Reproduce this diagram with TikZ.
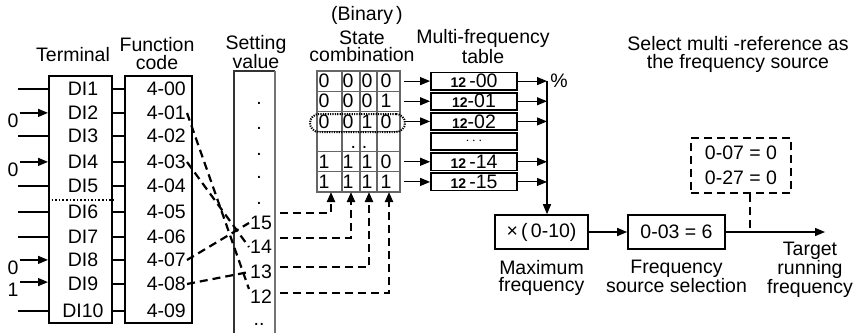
\documentclass[tikz,border=0pt]{standalone}
\usepackage{fontspec}
\setmainfont{Liberation Sans}
\usetikzlibrary{arrows.meta,positioning}

\newcommand{\grpno}[1]{{\fontsize{14}{14}\selectfont\bfseries #1}}

\begin{document}
\begin{tikzpicture}[
    x=1pt, y=-1pt,
    font=\fontsize{19.5}{17.5}\selectfont,
    inner sep=1pt,
    box/.style={draw, line width=1.6pt},
    arr/.style={-{Triangle[length=10pt,width=8pt]}, line width=1.4pt},
    dashline/.style={line width=2.2pt, dash pattern=on 8pt off 5pt},
    dasharr/.style={dashline, -{Triangle[length=10pt,width=8pt]}},
    strow/.style={draw=black!60, line width=1.1pt, minimum width=83pt, minimum height=20.17pt},
    mfrow/.style={draw, line width=1.8pt, minimum width=86pt, minimum height=17.3pt}
  ]
  \useasboundingbox (0,0) rectangle (857,333);

  % Column titles
  \node (ttl) at (73,55) {Terminal};
  \node[align=center] (ftl) at (157,53.5) {Function\\code};
  \node[align=center] (stl) at (256,52) {Setting\\value};
  \node (btl) at (367,15) {(Binary\,)};
  \node[align=center] (ctl) at (362,46.5) {State\\combination};
  \node[align=center] (mtl) at (483,46.5) {Multi-frequency\\table};
  \node[align=center] (sltl) at (738,54.5) {Select multi -reference as\\the frequency source};

  % Terminals and function codes
  \node[box, minimum width=63.4pt, minimum height=247.4pt] (termbox) at (80.5,199.5) {};
  \node[box, minimum width=67.4pt, minimum height=247.4pt] (fcbox) at (158.5,199.5) {};
  \draw[line width=1.6pt, dotted] (48,200) -- (113,200);
  \foreach \i/\y/\f in {1/89/00, 2/113/01, 3/136/02, 4/162/03, 5/186/04,
                        6/212/05, 7/237/06, 8/260/07, 9/284/08, 10/311/09} {
    \node (t\i) at (83,\y) {DI\i};
    \node[anchor=east] (f\i) at (187,\y) {4-\f};
    \coordinate (w\i) at (18,\y);
    \draw[line width=1.4pt] (termbox.east |- t\i) -- (fcbox.west |- t\i);
  }
  \foreach \i in {1,3,5,6,7,10}
    \draw[line width=1.4pt] (w\i) -- (termbox.west |- w\i);

  % Input states
  \node (in2) at (13,121) {0};
  \node (in4) at (13,170) {0};
  \node (in8) at (13,268) {0};
  \node (in9) at (13,290) {1};
  \foreach \n in {in2,in4,in8,in9}
    \draw[arr] (\n.north east) -- (termbox.west |- \n.north east);

  % Setting value column
  \draw[line width=1.3pt, black!80] (234,333) -- (234,71) -- (275,71);
  \draw[line width=1.3pt, black!55] (275,71) -- (275,333);
  \foreach \y in {103,128,154,177,203}
    \node at (259,\y) {.};
  \node (sv15) at (261,223) {15};
  \node (sv14) at (261,247) {14};
  \node (sv13) at (261,272) {13};
  \node (sv12) at (261,297) {12};
  \node (svdots) at (259,324) {..};

  % Crossed assignments
  \draw[dashline] (f2.east) -- (sv12.north west);
  \draw[dashline] (f4.east) -- (sv14.west);
  \draw[dashline] (f8.east) -- (sv15.west);
  \draw[dashline] (f9.east) -- (sv13.west);

  % State combination table
  \foreach \i in {1,...,6}
    \node[strow] (sr\i) at (358.5,{71+20.17*(\i-0.5)}) {};
  \foreach \x in {342,360,377}
    \draw[black!60, line width=1.1pt] (\x,71) -- (\x,192);
  \foreach \i/\a/\b/\c/\d in {1/0/0/0/0, 2/0/0/0/1, 3/0/0/1/0, 5/1/1/1/0, 6/1/1/1/1} {
    \node at (324,{71+20.17*(\i-0.5)}) {\a};
    \node at (348,{71+20.17*(\i-0.5)}) {\b};
    \node at (367,{71+20.17*(\i-0.5)}) {\c};
    \node at (386,{71+20.17*(\i-0.5)}) {\d};
  }
  \node (stdots) at (359,147) {.\hspace{6pt}.};
  \node[draw, line width=2pt, dash pattern=on 1.2pt off 1.2pt, rounded corners=9pt,
        minimum width=95pt, minimum height=18pt] (hl) at (357.5,123) {};

  % Bits from setting values
  \coordinate (s15) at (280,213);
  \coordinate (s14) at (280,238);
  \coordinate (s13) at (280,267);
  \coordinate (s12) at (280,293);
  \coordinate (b1) at (331,192);
  \coordinate (b2) at (351,192);
  \coordinate (b3) at (369,192);
  \coordinate (b4) at (389,192);
  \draw[dasharr] (s15) -| (b1);
  \draw[dasharr] (s14) -| (b2);
  \draw[dasharr] (s13) -| (b3);
  \draw[dasharr] (s12) -| (b4);

  % Multi-frequency table
  \node[mfrow] (m1) at (474,{71+20.17*0.5}) {\grpno{12}\,-00};
  \node[mfrow] (m2) at (474,{71+20.17*1.5}) {\grpno{12}-01};
  \node[mfrow] (m3) at (474,{71+20.17*2.5}) {\grpno{12}-02};
  \node[mfrow, font=\fontsize{14}{14}\selectfont] (m4) at (474,{71+20.17*3.5}) {$\cdots$};
  \node[mfrow] (m5) at (474,{71+20.17*4.5}) {\grpno{12}\,-14};
  \node[mfrow] (m6) at (474,{71+20.17*5.5}) {\grpno{12}\,-15};
  \coordinate (bus) at (547,81);
  \foreach \i in {1,2,3,5,6} {
    \draw[arr, line width=1.1pt, shorten <=3pt] (sr\i.east) -- (m\i.west);
    \draw[arr, line width=1.1pt] (m\i.east) -- (m\i.east -| bus);
  }
  \node (pct) at (559,81) {\%};

  % Output chain
  \node[box, minimum width=93pt, minimum height=34pt] (mx) at (541.5,232) {×\,(\,0-10)};
  \draw[arr] (bus) -- (bus |- mx.north);
  \node[align=center, below=9pt of mx] (mxlbl) {Maximum\\frequency};
  \node[box, minimum width=97pt, minimum height=34pt] (fsel) at (676.5,232) {0-03 = 6};
  \node[align=center, below=9pt of fsel] (fslbl) {Frequency\\source selection};
  \draw[arr] (mx) -- (fsel);
  \coordinate (target) at (825,232);
  \draw[arr] (fsel.east) -- (target);
  \node[align=center] (tgtlbl) at (810,270) {Target\\running\\frequency};

  % Multi-reference selection
  \node[draw, dashline, minimum width=100pt, minimum height=55pt, align=center,
        font=\fontsize{19.5}{25}\selectfont] (msel) at (741,165.5) {0-07 = 0\\0-27 = 0};
  \draw[dashline, shorten >=4pt] ([xshift=9pt]msel.south) -- ([xshift=9pt]msel.south |- target);

\end{tikzpicture}
\end{document}
